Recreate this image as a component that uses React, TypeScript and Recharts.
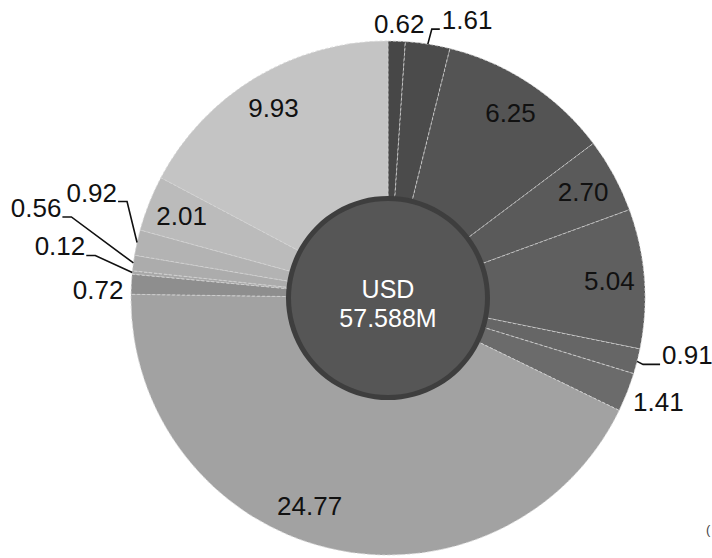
import React from "react";
import { PieChart, Pie, Cell } from "recharts";

// slice values, clockwise from 12 o'clock (USD M)
const segmentValues = [0.62, 1.61, 6.25, 2.7, 5.04, 0.91, 1.41, 24.77, 0.72, 0.12, 0.56, 0.92, 2.01, 9.93];
const segmentNames = [
  "Seg 1", "Seg 2", "Seg 3", "Seg 4", "Seg 5", "Seg 6", "Seg 7",
  "Seg 8", "Seg 9", "Seg 10", "Seg 11", "Seg 12", "Seg 13", "Seg 14",
];
const centerLines = ["USD", "57.588M"];

const colors = [
  "#474747", "#4b4b4b", "#545454", "#5a5a5a", "#5f5f5f", "#666666", "#6b6b6b",
  "#a2a2a2", "#8e8e8e", "#a8a8a8", "#acacac", "#b3b3b3", "#bbbbbb", "#c4c4c4",
];

// how each label is placed (styling only)
type Layout =
  | { kind: "in"; shift?: number }
  | { kind: "side"; dx: number; dy: number; anchor: "start" | "middle" | "end" }
  | { kind: "leader"; elbow: [number, number]; run: number };

const labelLayout: Layout[] = [
  { kind: "side", dx: 2.5, dy: -17, anchor: "middle" },
  { kind: "leader", elbow: [4, -15], run: 8 },
  { kind: "in" },
  { kind: "in" },
  { kind: "in" },
  { kind: "leader", elbow: [6, 3], run: 17 },
  { kind: "side", dx: 6, dy: 10, anchor: "start" },
  { kind: "in", shift: -7.3 },
  { kind: "side", dx: -8, dy: 6, anchor: "end" },
  { kind: "leader", elbow: [-37, -17], run: -9 },
  { kind: "leader", elbow: [-62, -46], run: -9 },
  { kind: "leader", elbow: [-10, -41], run: -9 },
  { kind: "in" },
  { kind: "in" },
];

const CX = 388;
const CY = 298;
const R = 257;
const FONT = "'Liberation Sans', Arial, sans-serif";
const RAD = Math.PI / 180;

const data = segmentValues.map((v, i) => ({ name: segmentNames[i], value: v }));
const total = [{ name: "total", value: 1 }];

const polar = (cx: number, cy: number, r: number, angle: number) => [
  cx + r * Math.cos(-angle * RAD),
  cy + r * Math.sin(-angle * RAD),
];

const renderLabel = (props: any) => {
  const { midAngle, index } = props;
  const cx = props.cx ?? CX;
  const cy = props.cy ?? CY;
  const outer = props.outerRadius ?? R;
  const text = segmentValues[index].toFixed(2);
  const lay = labelLayout[index];
  const common = { fontFamily: FONT, fontSize: 26, fill: "#111" };

  if (lay.kind === "in") {
    const [x, y] = polar(cx, cy, 222, midAngle + (lay.shift ?? 0));
    return (
      <text x={x} y={y} textAnchor="middle" dominantBaseline="central" {...common}>
        {text}
      </text>
    );
  }
  const [px, py] = polar(cx, cy, outer, midAngle);
  if (lay.kind === "side") {
    return (
      <text x={px + lay.dx} y={py + lay.dy} textAnchor={lay.anchor} dominantBaseline="central" {...common}>
        {text}
      </text>
    );
  }
  const ex = px + lay.elbow[0];
  const ey = py + lay.elbow[1];
  const endX = ex + lay.run;
  const right = lay.run > 0;
  return (
    <g>
      <polyline
        points={`${px},${py} ${ex},${ey} ${endX},${ey}`}
        fill="none"
        stroke="#111"
        strokeWidth={1.6}
      />
      <text x={endX + (right ? 2 : -1)} y={ey} textAnchor={right ? "start" : "end"} {...common}>
        {text}
      </text>
    </g>
  );
};

const renderCenter = (props: any) => {
  const cx = props.cx ?? CX;
  const cy = props.cy ?? CY;
  return (
    <g>
      <text x={cx} y={cy - 9.5} textAnchor="middle" dominantBaseline="central" fontFamily={FONT} fontSize={25} fill="#fff">
        {centerLines[0]}
      </text>
      <text x={cx} y={cy + 19.5} textAnchor="middle" dominantBaseline="central" fontFamily={FONT} fontSize={25} fill="#fff">
        {centerLines[1]}
      </text>
    </g>
  );
};

export default function App() {
  return (
    <div style={{ width: 712, height: 558, position: "relative", background: "#fff" }}>
      <style>{"body{margin:0}"}</style>
      <PieChart width={712} height={558} margin={{ top: 0, right: 0, bottom: 0, left: 0 }}>
        <Pie
          data={data}
          dataKey="value"
          nameKey="name"
          cx={CX}
          cy={CY}
          outerRadius={R}
          startAngle={90}
          endAngle={-270}
          stroke="#d4d4d4"
          strokeWidth={0.8}
          strokeDasharray="3 2"
          label={renderLabel}
          labelLine={false}
          isAnimationActive={false}
        >
          {data.map((d, i) => (
            <Cell key={d.name} fill={colors[i]} />
          ))}
        </Pie>
        {/* centre disc: dark ring + fill */}
        <Pie
          data={total}
          dataKey="value"
          cx={CX}
          cy={CY}
          innerRadius={96}
          outerRadius={102}
          startAngle={90}
          endAngle={-270}
          fill="#3e3e3e"
          stroke="none"
          isAnimationActive={false}
        />
        <Pie
          data={total}
          dataKey="value"
          cx={CX}
          cy={CY}
          outerRadius={97}
          startAngle={90}
          endAngle={-270}
          fill="#565656"
          stroke="none"
          label={renderCenter}
          labelLine={false}
          isAnimationActive={false}
        />
      </PieChart>
      <span
        style={{
          position: "absolute",
          left: 706,
          top: 522,
          fontFamily: FONT,
          fontSize: 13,
          color: "#444",
        }}
      >
        (
      </span>
    </div>
  );
}
